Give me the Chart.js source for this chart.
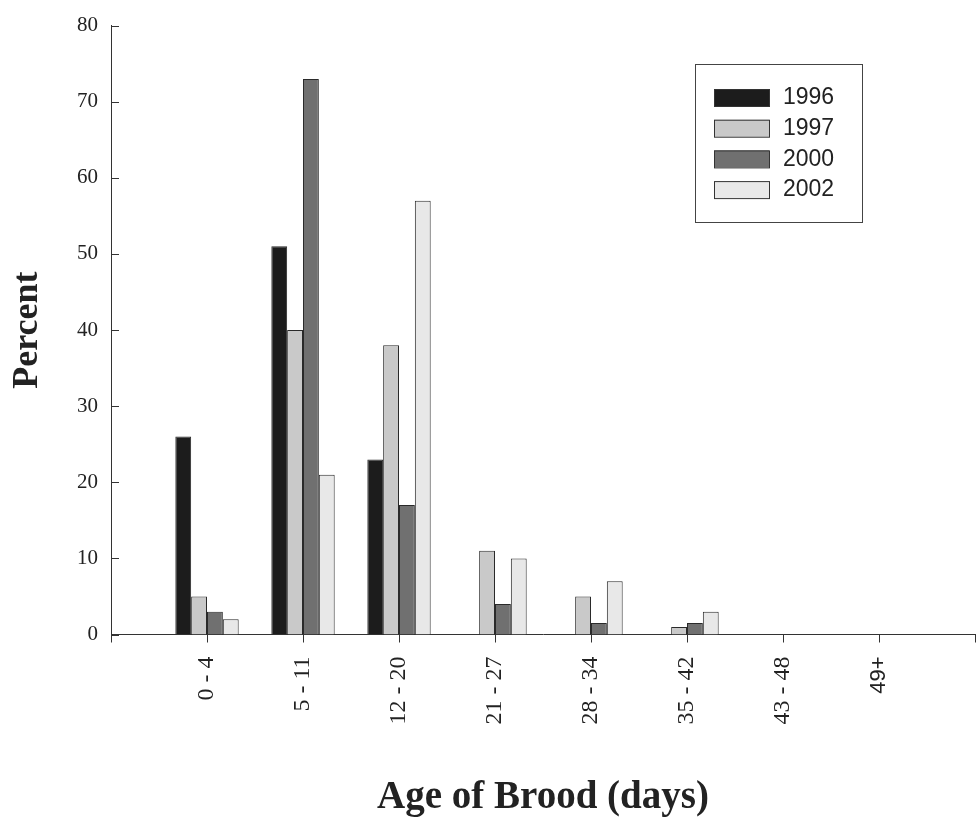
<!DOCTYPE html>
<html>
<head>
<meta charset="utf-8">
<script src="https://cdn.jsdelivr.net/npm/chart.js@4.4.1/dist/chart.umd.min.js"></script>
<style>
  html, body { margin: 0; padding: 0; background: #fff; }
  #wrap { width: 980px; height: 823px; }
</style>
</head>
<body>
<div id="wrap"><canvas id="myChart" width="980" height="823"></canvas></div>
<script>
// age classes (days)
const ageClasses = ['0 - 4', '5 - 11', '12 - 20', '21 - 27', '28 - 34', '35 - 42', '43 - 48', '49+'];
const years = ['1996', '1997', '2000', '2002'];

// percent of broods per age class
const pct1996 = [26, 51, 23, 0, 0, 0, 0, 0];
const pct1997 = [5, 40, 38, 11, 5, 1, 0, 0];
const pct2000 = [3, 73, 17, 4, 1.5, 1.5, 0, 0];
const pct2002 = [2, 21, 57, 10, 7, 3, 0, 0];

const yTicks = [0, 10, 20, 30, 40, 50, 60, 70, 80];

const fills = ['#1c1c1c', '#c9c9c9', '#707070', '#e8e8e8'];

// blank slot at each end so the axis runs a full category past the first/last group
function pad(arr) { return [null].concat(arr, [null]); }
const labels = pad(ageClasses).map(function (l) { return l === null ? '' : l; });

const serif = '"Liberation Serif", "Times New Roman", serif';
const sans = '"Liberation Sans", Arial, sans-serif';

// y ticks drawn pointing into the plot, like the original
const innerTicks = {
    id: 'innerTicks',
    afterDatasetsDraw: function (chart) {
        const ctx = chart.ctx;
        const y = chart.scales.y;
        const left = chart.chartArea.left;
        ctx.save();
        ctx.strokeStyle = '#333';
        ctx.lineWidth = 1;
        yTicks.forEach(function (v) {
            const py = Math.round(y.getPixelForValue(v)) + 0.5;
            ctx.beginPath();
            ctx.moveTo(left, py);
            ctx.lineTo(left + 8, py);
            ctx.stroke();
        });
        ctx.restore();
    }
};

// boxed legend in the upper right
const boxLegend = {
    id: 'boxLegend',
    afterDraw: function (chart) {
        const ctx = chart.ctx;
        ctx.save();
        ctx.fillStyle = '#fff';
        ctx.fillRect(695, 64, 168, 159);
        ctx.strokeStyle = '#444';
        ctx.lineWidth = 1;
        ctx.strokeRect(695.5, 64.5, 167, 158);
        ctx.font = '23px ' + sans;
        ctx.textBaseline = 'middle';
        ctx.textAlign = 'left';
        chart.data.datasets.forEach(function (ds, i) {
            const top = 89 + i * 30.7;
            ctx.fillStyle = ds.backgroundColor;
            ctx.fillRect(714, top, 55, 17);
            ctx.strokeStyle = '#333';
            ctx.strokeRect(714.5, top + 0.5, 55, 17);
            ctx.fillStyle = '#222';
            ctx.fillText(ds.label, 783, top + 9);
        });
        ctx.restore();
    }
};

const series = [pct1996, pct1997, pct2000, pct2002];

var ctx = document.getElementById('myChart').getContext('2d');
var chart = new Chart(ctx, {
    type: 'bar',
    data: {
        labels: labels,
        datasets: series.map(function (vals, i) {
            return {
                label: years[i],
                data: pad(vals),
                backgroundColor: fills[i],
                borderColor: '#2a2a2a',
                borderWidth: 1,
                categoryPercentage: 0.66,
                barPercentage: 1.0
            };
        })
    },
    options: {
        responsive: false,
        animation: false,
        layout: { padding: { top: 24, right: 5, bottom: 0, left: 0 } },
        plugins: {
            legend: { display: false },
            tooltip: { enabled: false }
        },
        scales: {
            x: {
                offset: false,
                grid: { display: true, offset: false, drawOnChartArea: false, tickLength: 8, color: '#333' },
                border: { display: true, color: '#333', width: 1 },
                ticks: {
                    autoSkip: false,
                    minRotation: 90,
                    maxRotation: 90,
                    padding: 14,
                    color: '#222',
                    font: function (c) {
                        return { family: c.index === 8 ? sans : serif, size: c.index === 8 ? 22 : 24 };
                    }
                },
                title: {
                    display: true,
                    text: 'Age of Brood (days)',
                    color: '#222',
                    font: { family: serif, size: 39, weight: 'bold' },
                    padding: { top: 0, bottom: 2 }
                },
                afterFit: function (scale) {
                    scale.height = 188.5;
                    scale.paddingLeft = 0;
                    scale.paddingRight = 0;
                }
            },
            y: {
                min: 0,
                max: 80,
                afterBuildTicks: function (scale) {
                    scale.ticks = yTicks.map(function (v) { return { value: v }; });
                },
                grid: { display: false, drawTicks: false },
                border: { display: true, color: '#333', width: 1 },
                ticks: {
                    padding: 13,
                    color: '#222',
                    font: { family: serif, size: 21 }
                },
                title: {
                    display: true,
                    text: 'Percent',
                    color: '#222',
                    font: { family: serif, size: 36, weight: 'bold' },
                    padding: { top: 6, bottom: 0 }
                },
                afterFit: function (scale) { scale.width = 111; }
            }
        }
    },
    plugins: [innerTicks, boxLegend]
});
</script>
</body>
</html>
